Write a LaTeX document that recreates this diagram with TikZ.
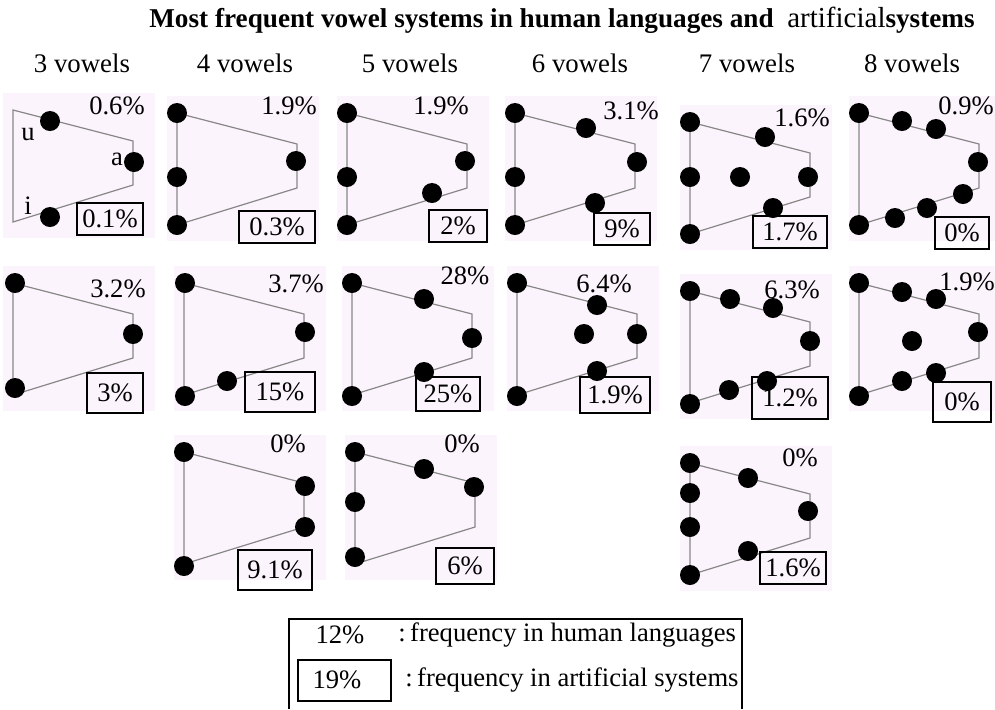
\documentclass[tikz,border=0pt]{standalone}
\usepackage{fontspec}
\setmainfont{Liberation Serif}
\usetikzlibrary{calc}
\definecolor{panelpink}{RGB}{252,244,252}
\definecolor{tractgray}{RGB}{135,135,135}
\def\tract(#1,#2){%
  \fill[panelpink] ($(#1,#2)+(-10,-17)$) rectangle ($(#1,#2)+(142,128)$);
  \draw[tractgray, line width=0.6pt] (#1,#2) -- ++(120,31) -- ++(0,44) -- ++(-120,37) -- cycle;}
\tikzset{
  vdot/.style={circle, fill=black, inner sep=0pt, minimum size=10pt},
  human/.style={font=\fontsize{13.3}{15}\selectfont},
  artbox/.style={draw, line width=0.6pt, font=\fontsize{13.3}{15}\selectfont, inner sep=0pt, minimum width=30pt, minimum height=16pt},
  colhead/.style={font=\fontsize{13.4}{15}\selectfont},
  letter/.style={font=\fontsize{13.3}{15}\selectfont}
}

\begin{document}
\begin{tikzpicture}[x=0.5pt, y=-0.5pt]
  \useasboundingbox (0,0) rectangle (995,709);

  %%%%% TITLE %%%%%
  \node[font=\fontsize{13.6}{16}\selectfont\bfseries] (title) at (562,20)
    {Most frequent vowel systems in human languages and\ \ {\mdseries\fontsize{14.5}{16}\selectfont artificial}systems};

  \node[colhead] (h3) at (82,63) {3 vowels};
  \node[colhead] (h4) at (245,63) {4 vowels};
  \node[colhead] (h5) at (410,63) {5 vowels};
  \node[colhead] (h6) at (580,63) {6 vowels};
  \node[colhead] (h7) at (747,63) {7 vowels};
  \node[colhead] (h8) at (912,63) {8 vowels};

  %%%%% ROW 1 %%%%%
  \tract(13,110)
  \node[vdot] (a1u) at (50,121) {};
  \node[vdot] (a1a) at (134,162) {};
  \node[vdot] (a1i) at (50,217) {};
  \node[letter] (lu) at (28,135) {u};
  \node[letter] (la) at (117,159) {a};
  \node[letter] (li) at (28,206) {i};
  \node[human] (h1a) at (117,106) {0.6\%};
  \node[artbox, minimum width=33pt] (b1a) at (110,219) {0.1\%};

  \tract(177,113)
  \node[vdot] (a2a) at (177,113) {};
  \node[vdot] (a2b) at (177,177) {};
  \node[vdot] (a2c) at (177,225) {};
  \node[vdot] (a2d) at (296,161) {};
  \node[human] (h2a) at (289,106) {1.9\%};
  \node[artbox, minimum width=38pt] (b2a) at (277,227) {0.3\%};

  \tract(347,113)
  \node[vdot] (a3a) at (347,113) {};
  \node[vdot] (a3b) at (347,177) {};
  \node[vdot] (a3c) at (347,225) {};
  \node[vdot] (a3d) at (465,161) {};
  \node[vdot] (a3e) at (432,193) {};
  \node[human] (h3a) at (441,106) {1.9\%};
  \node[artbox, minimum width=29pt] (b3a) at (458,226) {2\%};

  \tract(515,113)
  \node[vdot] (a4a) at (515,113) {};
  \node[vdot] (a4b) at (586,128) {};
  \node[vdot] (a4c) at (637,162) {};
  \node[vdot] (a4d) at (515,177) {};
  \node[vdot] (a4e) at (515,225) {};
  \node[vdot] (a4f) at (595,203) {};
  \node[human] (h4a) at (631,111) {3.1\%};
  \node[artbox, minimum width=28pt] (b4a) at (622,229) {9\%};

  \tract(690,122)
  \node[vdot] (a5a) at (690,122) {};
  \node[vdot] (a5b) at (765,137) {};
  \node[vdot] (a5c) at (690,177) {};
  \node[vdot] (a5d) at (740,177) {};
  \node[vdot] (a5e) at (808,177) {};
  \node[vdot] (a5f) at (773,208) {};
  \node[vdot] (a5g) at (690,234) {};
  \node[human] (h5a) at (802,118) {1.6\%};
  \node[artbox, minimum width=37pt] (b5a) at (790,232) {1.7\%};

  \tract(859,113)
  \node[vdot] (a6a) at (859,113) {};
  \node[vdot] (a6b) at (902,121) {};
  \node[vdot] (a6c) at (936,129) {};
  \node[vdot] (a6d) at (978,162) {};
  \node[vdot] (a6e) at (963,194) {};
  \node[vdot] (a6f) at (927,208) {};
  \node[vdot] (a6g) at (895,218) {};
  \node[vdot] (a6h) at (859,225) {};
  \node[human] (h6a) at (966,106) {0.9\%};
  \node[artbox, minimum width=27pt] (b6a) at (962,233) {0\%};

  %%%%% ROW 2 %%%%%
  \tract(13,283)
  \node[vdot] (b1x) at (15,283) {};
  \node[vdot] (b1y) at (133,334) {};
  \node[vdot] (b1z) at (15,388) {};
  \node[human] (h1b) at (118,289) {3.2\%};
  \node[artbox, minimum width=28pt, minimum height=20pt] (b1b) at (115,393) {3\%};

  \tract(184,283)
  \node[vdot] (b2x) at (185,283) {};
  \node[vdot] (b2y) at (305,332) {};
  \node[vdot] (b2z) at (227,381) {};
  \node[vdot] (b2w) at (185,396) {};
  \node[human] (h2b) at (296,284) {3.7\%};
  \node[artbox, minimum width=35pt, minimum height=20pt] (b2b) at (280,392) {15\%};

  \tract(352,283)
  \node[vdot] (b3x) at (352,283) {};
  \node[vdot] (b3y) at (424,299) {};
  \node[vdot] (b3z) at (472,338) {};
  \node[vdot] (b3w) at (424,372) {};
  \node[vdot] (b3v) at (352,396) {};
  \node[human] (h3b) at (465,276) {28\%};
  \node[artbox, minimum width=32pt, minimum height=17pt] (b3b) at (448,394) {25\%};

  \tract(517,283)
  \node[vdot] (b4x) at (517,283) {};
  \node[vdot] (b4y) at (597,305) {};
  \node[vdot] (b4z) at (584,334) {};
  \node[vdot] (b4w) at (637,334) {};
  \node[vdot] (b4v) at (597,371) {};
  \node[vdot] (b4u) at (517,396) {};
  \node[human] (h4b) at (604,284) {6.4\%};
  \node[artbox, minimum width=35pt, minimum height=18pt] (b4b) at (615,395) {1.9\%};

  \tract(690,291)
  \node[vdot] (b5x) at (690,291) {};
  \node[vdot] (b5y) at (730,299) {};
  \node[vdot] (b5z) at (773,308) {};
  \node[vdot] (b5w) at (810,341) {};
  \node[vdot] (b5v) at (767,381) {};
  \node[vdot] (b5u) at (729,390) {};
  \node[vdot] (b5t) at (690,404) {};
  \node[human] (h5b) at (792,290) {6.3\%};
  \node[artbox, minimum width=38pt, minimum height=21pt] (b5b) at (790,398) {1.2\%};

  \tract(859,283)
  \node[vdot] (b6x) at (859,283) {};
  \node[vdot] (b6y) at (902,292) {};
  \node[vdot] (b6z) at (936,299) {};
  \node[vdot] (b6w) at (978,332) {};
  \node[vdot] (b6v) at (912,341) {};
  \node[vdot] (b6u) at (936,373) {};
  \node[vdot] (b6t) at (902,381) {};
  \node[vdot] (b6s) at (859,396) {};
  \node[human] (h6b) at (967,282) {1.9\%};
  \node[artbox, minimum width=29pt, minimum height=20pt] (b6b) at (962,402) {0\%};

  %%%%% ROW 3 %%%%%
  \tract(184,452)
  \node[vdot] (c2x) at (184,452) {};
  \node[vdot] (c2y) at (305,486) {};
  \node[vdot] (c2z) at (305,527) {};
  \node[vdot] (c2w) at (184,566) {};
  \node[human] (h2c) at (288,444) {0\%};
  \node[artbox, minimum width=37pt, minimum height=20pt] (b2c) at (275,570) {9.1\%};

  \tract(355,452)
  \node[vdot] (c3x) at (355,452) {};
  \node[vdot] (c3y) at (424,469) {};
  \node[vdot] (c3z) at (474,487) {};
  \node[vdot] (c3w) at (355,502) {};
  \node[vdot] (c3v) at (355,557) {};
  \node[human] (h3c) at (462,444) {0\%};
  \node[artbox, minimum width=29pt, minimum height=18pt] (b3c) at (465,566) {6\%};

  \tract(690,463)
  \node[vdot] (c5x) at (690,463) {};
  \node[vdot] (c5y) at (748,478) {};
  \node[vdot] (c5z) at (690,493) {};
  \node[vdot] (c5w) at (690,527) {};
  \node[vdot] (c5v) at (808,511) {};
  \node[vdot] (c5u) at (748,551) {};
  \node[vdot] (c5t) at (690,575) {};
  \node[human] (h5c) at (800,458) {0\%};
  \node[artbox, minimum width=33pt] (b5c) at (793,568) {1.6\%};

  %%%%% LEGEND %%%%%
  \draw[line width=0.6pt] (289,709) -- (289,619) -- (742,619) -- (742,709);
  \node[human] (k1) at (340,635) {12\%};
  \node[human, anchor=west, inner sep=0pt] (k1t) at (398,635) {:\,frequency in human languages};
  \draw[line width=0.6pt] (298,660) rectangle (391,701);
  \node[human] (k2) at (337,680) {19\%};
  \node[human, anchor=west, inner sep=0pt] (k2t) at (405,680)
    {:\,frequency in artificial systems};
\end{tikzpicture}
\end{document}
